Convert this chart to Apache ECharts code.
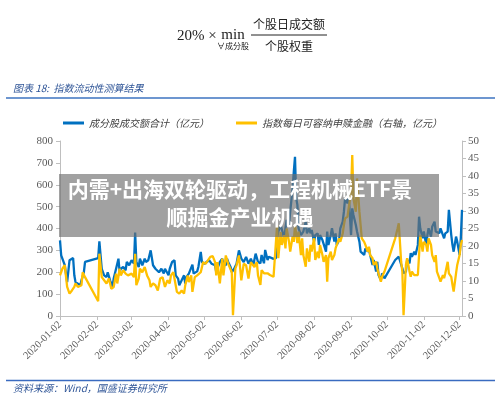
<!DOCTYPE html>
<html>
<head>
<meta charset="utf-8">
<script src="https://cdn.jsdelivr.net/npm/echarts@6/dist/echarts.min.js"></script>
<style>
  html, body { margin: 0; padding: 0; background: #fff; }
  #main { width: 500px; height: 411px; }
</style>
</head>
<body>
<div id="main"></div>
<script>
// 成分股成交额合计（亿元）- left axis
const amtDates = [
  '2020-01-02','2020-01-03','2020-01-05','2020-01-06','2020-01-08','2020-01-10','2020-01-13','2020-01-14','2020-01-15','2020-01-17',
  '2020-01-19','2020-01-20','2020-01-22','2020-01-23','2020-02-03','2020-02-04','2020-02-06','2020-02-08','2020-02-10','2020-02-11',
  '2020-02-13','2020-02-15','2020-02-16','2020-02-18','2020-02-20','2020-02-21','2020-02-22','2020-02-24','2020-02-26','2020-02-27',
  '2020-02-29','2020-03-02','2020-03-04','2020-03-05','2020-03-06','2020-03-08','2020-03-09','2020-03-11','2020-03-13','2020-03-14',
  '2020-03-16','2020-03-18','2020-03-20','2020-03-22','2020-03-23','2020-03-25','2020-03-27','2020-03-29','2020-03-30','2020-04-02',
  '2020-04-03','2020-04-05','2020-04-07','2020-04-08','2020-04-10','2020-04-11','2020-04-13','2020-04-15','2020-04-16','2020-04-17',
  '2020-04-19','2020-04-20','2020-04-22','2020-04-23','2020-04-24','2020-04-26','2020-04-27','2020-04-29','2020-04-30','2020-05-02',
  '2020-05-04','2020-05-06','2020-05-08','2020-05-11','2020-05-12','2020-05-14','2020-05-15','2020-05-17','2020-05-18','2020-05-20',
  '2020-05-21','2020-05-22','2020-05-24','2020-05-25','2020-05-27','2020-05-29','2020-05-31','2020-06-02','2020-06-04','2020-06-06',
  '2020-06-08','2020-06-10','2020-06-12','2020-06-14','2020-06-16','2020-06-18','2020-06-19','2020-06-21','2020-06-22','2020-06-24',
  '2020-06-25','2020-06-26','2020-06-29','2020-07-01','2020-07-02','2020-07-03','2020-07-05','2020-07-06','2020-07-08','2020-07-09',
  '2020-07-10','2020-07-12','2020-07-13','2020-07-15','2020-07-16','2020-07-17','2020-07-18','2020-07-19','2020-07-20','2020-07-22',
  '2020-07-23','2020-07-24','2020-07-26','2020-07-27','2020-07-29','2020-07-30','2020-07-31','2020-08-02','2020-08-03','2020-08-05',
  '2020-08-06','2020-08-07','2020-08-09','2020-08-10','2020-08-12','2020-08-13','2020-08-14','2020-08-16','2020-08-17','2020-08-19',
  '2020-08-20','2020-08-21','2020-08-23','2020-08-24','2020-08-26','2020-08-27','2020-08-28','2020-08-30','2020-08-31','2020-09-02',
  '2020-09-03','2020-09-04','2020-09-06','2020-09-07','2020-09-09','2020-09-10','2020-09-11','2020-09-13','2020-09-14','2020-09-16',
  '2020-09-17','2020-09-18','2020-09-20','2020-09-21','2020-09-23','2020-09-24','2020-09-25','2020-09-27','2020-09-28','2020-09-30',
  '2020-10-09','2020-10-12','2020-10-15','2020-10-16','2020-10-18','2020-10-19','2020-10-21','2020-10-22','2020-10-23','2020-10-25',
  '2020-10-26','2020-10-28','2020-10-29','2020-10-30','2020-11-01','2020-11-02','2020-11-04','2020-11-05','2020-11-06','2020-11-08',
  '2020-11-09','2020-11-11','2020-11-12','2020-11-13','2020-11-15','2020-11-16','2020-11-18','2020-11-19','2020-11-20','2020-11-22',
  '2020-11-23','2020-11-25','2020-11-26','2020-11-27','2020-11-29','2020-11-30','2020-12-02','2020-12-03','2020-12-04'
];
const amtValues = [
  346, 277, 247, 232, 155, 255, 265, 186, 155, 148,
  140, 163, 200, 247, 265, 341, 215, 186, 178, 200,
  163, 133, 171, 216, 262, 200, 216, 224, 209, 247,
  232, 255, 239, 381, 247, 224, 262, 232, 262, 247,
  255, 300, 232, 216, 224, 200, 216, 194, 216, 186,
  216, 247, 255, 186, 171, 140, 163, 186, 148, 178,
  194, 200, 235, 194, 200, 204, 224, 293, 247, 239,
  247, 255, 239, 232, 200, 232, 247, 262, 239, 232,
  262, 247, 224, 200, 216, 239, 300, 262, 247, 270,
  239, 262, 232, 285, 247, 241, 279, 241, 302, 256,
  271, 264, 261, 264, 355, 386, 416, 408, 355, 401,
  439, 416, 477, 584, 660, 728, 538, 508, 401, 370,
  363, 386, 431, 378, 401, 378, 393, 340, 370, 378,
  325, 370, 347, 340, 294, 386, 325, 370, 401, 340,
  378, 325, 347, 401, 431, 477, 538, 515, 553, 370,
  492, 462, 416, 386, 340, 294, 302, 279, 309, 294,
  309, 279, 233, 256, 203, 248, 187, 165, 195, 172,
  256, 271, 218, 195, 203, 256, 241, 287, 271, 294,
  279, 325, 454, 401, 355, 386, 325, 370, 401, 363,
  408, 431, 386, 393, 378, 401, 370, 355, 378, 386,
  485, 370, 325, 294, 363, 340, 279, 355, 485
];

// 指数每日可容纳申赎金融（右轴，亿元）
const capDates = [
  '2020-01-02','2020-01-04','2020-01-06','2020-01-08','2020-01-10','2020-01-12','2020-01-14','2020-01-15','2020-01-17','2020-01-20',
  '2020-01-21','2020-01-23','2020-02-03','2020-02-04','2020-02-06','2020-02-08','2020-02-10','2020-02-12','2020-02-14','2020-02-16',
  '2020-02-18','2020-02-19','2020-02-21','2020-02-22','2020-02-24','2020-02-26','2020-02-28','2020-03-02','2020-03-04','2020-03-05',
  '2020-03-06','2020-03-08','2020-03-09','2020-03-11','2020-03-13','2020-03-15','2020-03-17','2020-03-18','2020-03-20','2020-03-22',
  '2020-03-24','2020-03-26','2020-03-28','2020-03-30','2020-04-01','2020-04-03','2020-04-04','2020-04-06','2020-04-08','2020-04-09',
  '2020-04-11','2020-04-13','2020-04-15','2020-04-16','2020-04-18','2020-04-19','2020-04-21','2020-04-22','2020-04-24','2020-04-26',
  '2020-04-27','2020-04-29','2020-05-01','2020-05-03','2020-05-05','2020-05-07','2020-05-09','2020-05-11','2020-05-12','2020-05-13',
  '2020-05-15','2020-05-17','2020-05-18','2020-05-20','2020-05-22','2020-05-23','2020-05-25','2020-05-26','2020-05-28','2020-05-29',
  '2020-05-31','2020-06-02','2020-06-04','2020-06-06','2020-06-08','2020-06-10','2020-06-13','2020-06-15','2020-06-16','2020-06-18',
  '2020-06-19','2020-06-21','2020-06-22','2020-06-24','2020-06-26','2020-06-29','2020-06-30','2020-07-02','2020-07-03','2020-07-05',
  '2020-07-06','2020-07-08','2020-07-09','2020-07-10','2020-07-12','2020-07-13','2020-07-15','2020-07-16','2020-07-17','2020-07-19',
  '2020-07-20','2020-07-22','2020-07-23','2020-07-24','2020-07-26','2020-07-27','2020-07-29','2020-07-30','2020-07-31','2020-08-02',
  '2020-08-03','2020-08-05','2020-08-06','2020-08-07','2020-08-09','2020-08-10','2020-08-12','2020-08-13','2020-08-14','2020-08-16',
  '2020-08-17','2020-08-19','2020-08-20','2020-08-21','2020-08-23','2020-08-24','2020-08-26','2020-08-27','2020-08-28','2020-08-30',
  '2020-08-31','2020-09-02','2020-09-03','2020-09-04','2020-09-06','2020-09-07','2020-09-09','2020-09-10','2020-09-11','2020-09-13',
  '2020-09-14','2020-09-16','2020-09-17','2020-09-18','2020-09-20','2020-09-21','2020-09-23','2020-09-24','2020-09-25','2020-09-27',
  '2020-09-28','2020-09-30','2020-10-09','2020-10-11','2020-10-12','2020-10-14','2020-10-15','2020-10-16','2020-10-18','2020-10-19',
  '2020-10-21','2020-10-22','2020-10-23','2020-10-25','2020-10-26','2020-10-28','2020-10-29','2020-10-30','2020-11-01','2020-11-02',
  '2020-11-04','2020-11-05','2020-11-06','2020-11-08','2020-11-09','2020-11-11','2020-11-12','2020-11-13','2020-11-15','2020-11-16',
  '2020-11-18','2020-11-19','2020-11-20','2020-11-22','2020-11-23','2020-11-25','2020-11-26','2020-11-27','2020-11-29','2020-11-30',
  '2020-12-02','2020-12-03','2020-12-04'
];
const capValues = [
  11.6, 13.5, 14.5, 8.3, 6.4, 7.3, 8.3, 9.3, 8.3, 8.8,
  12.5, 11.1, 4.2, 17.8, 11.1, 10.2, 9.3, 10.7, 7.8, 8.3,
  12.1, 9.3, 13.5, 11.6, 13.1, 12.1, 11.6, 12.1, 11.1, 17.8,
  8.8, 10.7, 13.5, 12.5, 14.0, 11.6, 10.2, 8.3, 9.3, 8.8,
  7.3, 10.7, 11.1, 8.3, 10.2, 9.3, 11.6, 12.5, 8.8, 6.9,
  6.4, 7.3, 6.4, 8.8, 11.6, 9.7, 11.6, 6.9, 11.1, 11.6,
  11.1, 12.5, 15.4, 14.9, 15.9, 16.9, 17.1, 15.4, 11.6, 15.4,
  9.3, 16.4, 11.6, 17.3, 14.9, 14.5, 12.5, 0.2, 13.5, 14.5,
  17.3, 10.2, 14.9, 14.5, 10.7, 15.4, 14.0, 15.4, 11.6, 8.9,
  13.1, 12.2, 12.7, 12.2, 11.7, 11.2, 10.8, 26.0, 16.5, 24.0,
  20.3, 23.1, 19.3, 25.0, 21.2, 18.4, 22.7, 21.2, 26.0, 20.8,
  24.1, 17.4, 22.2, 17.4, 14.1, 19.3, 15.5, 20.3, 18.4, 22.2,
  16.0, 18.4, 16.5, 20.3, 17.4, 15.5, 17.4, 9.8, 16.5, 18.4,
  16.0, 17.4, 19.3, 20.3, 22.2, 21.2, 23.6, 26.0, 27.9, 28.4,
  30.8, 35.5, 46.0, 33.6, 29.8, 39.3, 29.8, 26.0, 22.2, 21.2,
  20.3, 18.4, 19.8, 17.4, 16.5, 14.6, 15.5, 13.6, 12.2, 9.8,
  11.2, 12.7, 22.2, 25.0, 26.5, 15.5, 12.7, 0.2, 14.6, 16.5,
  12.7, 11.2, 12.7, 11.7, 12.2, 11.7, 17.4, 23.1, 18.4, 21.2,
  20.3, 18.4, 22.2, 20.3, 17.4, 15.5, 17.4, 12.7, 10.8, 9.8,
  11.7, 10.8, 12.2, 15.5, 12.2, 11.2, 8.9, 7.0, 12.2, 14.6,
  17.4, 20.3, 21.7
];

const tickDates = [
  '2020-01-02','2020-02-02','2020-03-02','2020-04-02','2020-05-02','2020-06-02',
  '2020-07-02','2020-08-02','2020-09-02','2020-10-02','2020-11-02','2020-12-02'
];

const leftTicks = { min: 0, max: 800, interval: 100 };
const rightTicks = { min: 0, max: 50, interval: 5 };

const chart = echarts.init(document.getElementById('main'));

// dates -> timestamps (local), the x axis is a plain value axis of timestamps
const ts = d => echarts.time.parse(d).getTime();
const tickValues = tickDates.map(ts);
const axisGray = '#595959';
const numFont = 'Liberation Serif';
const cjkFont = 'Noto Sans CJK SC';

chart.setOption({
  animation: false,
  backgroundColor: '#fff',
  grid: {
    left: 60,
    right: 38,
    top: 141,
    bottom: 95,
    containLabel: false,
    outerBoundsMode: 'none'
  },
  legend: {
    top: 113,
    left: 58,
    icon: 'rect',
    itemWidth: 21,
    itemHeight: 3,
    itemGap: 27,
    textStyle: { fontSize: 10, color: '#404040', fontFamily: cjkFont, fontStyle: 'italic' },
    data: ['成分股成交额合计（亿元）', '指数每日可容纳申赎金融（右轴，亿元）']
  },
  xAxis: {
    type: 'value',
    min: ts('2020-01-02'),
    max: ts('2020-12-04'),
    axisLine: { onZero: false, lineStyle: { color: '#BFBFBF', width: 1 } },
    axisTick: { show: true, customValues: tickValues, length: 4, lineStyle: { color: '#BFBFBF' } },
    splitLine: { show: false },
    axisLabel: {
      customValues: tickValues,
      rotate: 45,
      fontSize: 10.5,
      fontFamily: numFont,
      color: axisGray,
      margin: 7,
      hideOverlap: false,
      showMinLabel: true,
      showMaxLabel: true,
      formatter: val => echarts.time.format(val, '{yyyy}-{MM}-{dd}', false)
    }
  },
  yAxis: [
    {
      type: 'value',
      min: leftTicks.min,
      max: leftTicks.max,
      interval: leftTicks.interval,
      axisLine: { show: true, lineStyle: { color: '#BFBFBF' } },
      axisTick: { show: true, length: 4, lineStyle: { color: '#BFBFBF' } },
      splitLine: { show: false },
      axisLabel: { fontSize: 11, fontFamily: numFont, color: axisGray, margin: 7 }
    },
    {
      type: 'value',
      min: rightTicks.min,
      max: rightTicks.max,
      interval: rightTicks.interval,
      position: 'right',
      axisLine: { show: true, lineStyle: { color: '#BFBFBF' } },
      axisTick: { show: true, length: 4, lineStyle: { color: '#BFBFBF' } },
      splitLine: { show: false },
      axisLabel: { fontSize: 11, fontFamily: numFont, color: axisGray, margin: 6 }
    }
  ],
  series: [
    {
      name: '成分股成交额合计（亿元）',
      type: 'line',
      yAxisIndex: 0,
      showSymbol: false,
      color: '#0070C0',
      lineStyle: { width: 2.3, color: '#0070C0' },
      data: amtDates.map((d, i) => [ts(d), amtValues[i]])
    },
    {
      name: '指数每日可容纳申赎金融（右轴，亿元）',
      type: 'line',
      yAxisIndex: 1,
      showSymbol: false,
      color: '#FFC000',
      lineStyle: { width: 2.3, color: '#FFC000' },
      data: capDates.map((d, i) => [ts(d), capValues[i]])
    }
  ],
  graphic: [
    // formula
    { type: 'text', style: { x: 177, y: 36, text: '20% ×', font: '15px "Liberation Serif"', fill: '#222', verticalAlign: 'middle' } },
    { type: 'text', style: { x: 233, y: 35, text: 'min', font: '15px "Liberation Serif"', fill: '#222', align: 'center', verticalAlign: 'middle' } },
    { type: 'text', style: { x: 233, y: 46, text: '∀成分股', font: '8px "Noto Sans CJK SC"', fill: '#222', align: 'center', verticalAlign: 'middle' } },
    { type: 'text', style: { x: 289, y: 24, text: '个股日成交额', font: '12px "Noto Sans CJK SC"', fill: '#222', align: 'center', verticalAlign: 'middle' } },
    { type: 'line', shape: { x1: 251, y1: 35, x2: 327, y2: 35 }, style: { stroke: '#222', lineWidth: 1 } },
    { type: 'text', style: { x: 289, y: 46, text: '个股权重', font: '12px "Noto Sans CJK SC"', fill: '#222', align: 'center', verticalAlign: 'middle' } },
    // title
    { type: 'text', style: { x: 13, y: 88, text: '图表 18:  指数流动性测算结果', font: 'italic 10px "Noto Sans CJK SC"', fill: '#2F5597', verticalAlign: 'middle' } },
    { type: 'line', shape: { x1: 6, y1: 98, x2: 495, y2: 98 }, style: { stroke: '#6D96D0', lineWidth: 2 } },
    // source
    { type: 'line', shape: { x1: 6, y1: 380.5, x2: 495, y2: 380.5 }, style: { stroke: '#3A6BC0', lineWidth: 1.5 } },
    { type: 'text', style: { x: 13, y: 388, text: '资料来源：Wind，国盛证券研究所', font: 'italic 10px "Noto Sans CJK SC"', fill: '#2F5597', verticalAlign: 'middle' } },
    // overlay banner
    { type: 'rect', z: 100, shape: { x: 59, y: 174, width: 380, height: 63 }, style: { fill: 'rgba(110,110,110,0.65)' } },
    { type: 'text', z: 101, style: { x: 240, y: 189, text: '内需+出海双轮驱动，工程机械ETF景', font: 'bold 21px "Noto Sans CJK SC"', fill: '#fff', align: 'center', verticalAlign: 'middle' } },
    { type: 'text', z: 101, style: { x: 240, y: 217, text: '顺掘金产业机遇', font: 'bold 21px "Noto Sans CJK SC"', fill: '#fff', align: 'center', verticalAlign: 'middle' } }
  ]
});
</script>
</body>
</html>
